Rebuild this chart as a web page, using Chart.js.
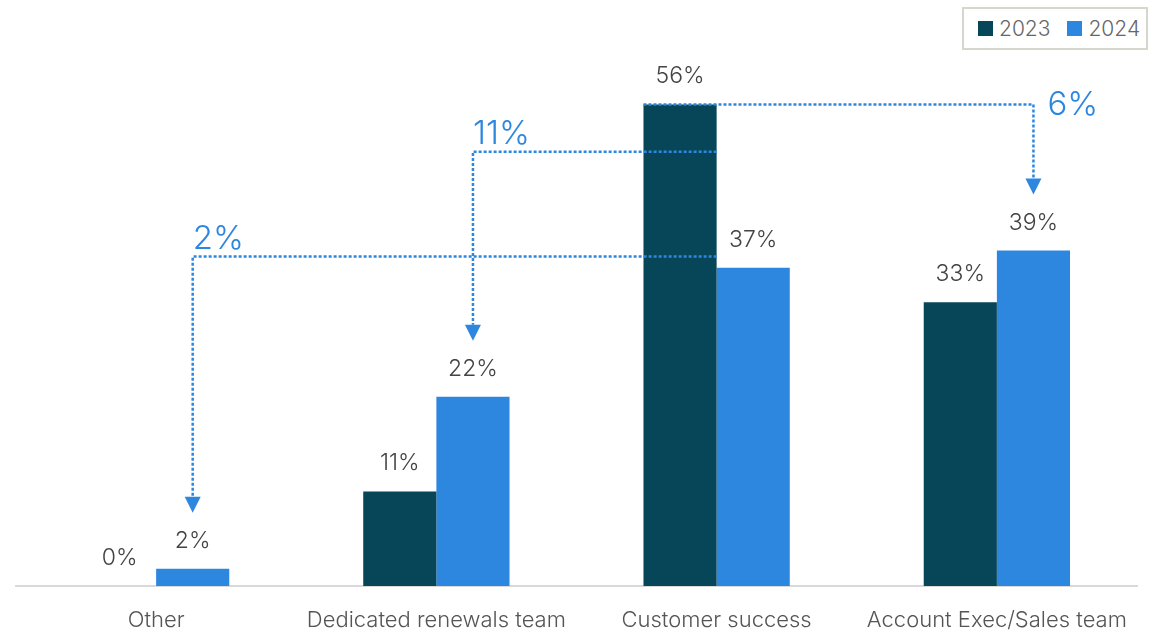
<!DOCTYPE html>
<html>
<head>
<meta charset="utf-8">
<title>Renewal ownership</title>
<script src="https://cdn.jsdelivr.net/npm/chart.js@4.4.1/dist/chart.umd.min.js"></script>
<style>
  html, body { margin: 0; padding: 0; background: #fff; }
  #wrap { position: relative; width: 1166px; height: 637px; }
  #legend {
    position: absolute; left: 962px; top: 7px; width: 182px; height: 39px;
    border: 2px solid #d5d7cd; background: #fff;
    display: flex; align-items: center;
    font-family: Inter, "Noto Sans", sans-serif; font-size: 21px; font-weight: 300; color: #666;
  }
  #legend .sw { width: 15px; height: 15px; display: inline-block; }
  #legend .item { display: flex; align-items: center; }
</style>
</head>
<body>
<div id="wrap">
  <canvas id="owner-chart" width="1166" height="637"></canvas>
  <div id="legend">
    <span class="item" style="margin-left:14px"><span class="sw" style="background:#074659"></span><span style="margin-left:6px">2023</span></span>
    <span class="item" style="margin-left:17px"><span class="sw" style="background:#2e87df"></span><span style="margin-left:6px">2024</span></span>
  </div>
</div>
<script>
const categories = ["Other", "Dedicated renewals team", "Customer success", "Account Exec/Sales team"];
const values2023 = [0, 11, 56, 33];
const values2024 = [2, 22, 37, 39];

const DARK = "#074659";
const BLUE = "#2e87df";
const FONT = 'Inter, "Noto Sans", sans-serif';

// dotted arrows showing where the lost Customer success share moved to
// level = height of the horizontal run, in % units
const shifts = [
  { to: 0, level: 38.3, startEdge: "right", labelPos: "above" },
  { to: 1, level: 50.5, startEdge: "right", labelPos: "above" },
  { to: 3, level: values2023[2], startEdge: "left", labelPos: "right" },
];

const overlay = {
  id: "overlay",
  afterDatasetsDraw(chart) {
    const ctx = chart.ctx;
    const y = chart.scales.y;
    const metas = [chart.getDatasetMeta(0), chart.getDatasetMeta(1)];
    const sets = [values2023, values2024];

    // value labels above each bar
    ctx.save();
    ctx.font = "300 23px " + FONT;
    ctx.fillStyle = "#444";
    ctx.textAlign = "center";
    ctx.textBaseline = "alphabetic";
    metas.forEach((meta, d) => {
      meta.data.forEach((bar, i) => {
        ctx.fillText(sets[d][i] + "%", bar.x, bar.y - 21);
      });
    });
    ctx.restore();

    // shift arrows
    const src = metas[0].data[2];
    shifts.forEach((s) => {
      const target = metas[1].data[s.to];
      const startX = s.startEdge === "right" ? src.x + src.width / 2 : src.x - src.width / 2;
      const lineY = y.getPixelForValue(s.level);
      const tipY = target.y - 56;
      const headH = 16, headW = 8;

      ctx.save();
      ctx.strokeStyle = BLUE;
      ctx.lineWidth = 2.5;
      ctx.setLineDash([3, 2]);
      ctx.beginPath();
      ctx.moveTo(startX, lineY);
      ctx.lineTo(target.x, lineY);
      ctx.lineTo(target.x, tipY - headH);
      ctx.stroke();
      ctx.setLineDash([]);
      ctx.fillStyle = BLUE;
      ctx.beginPath();
      ctx.moveTo(target.x - headW, tipY - headH);
      ctx.lineTo(target.x + headW, tipY - headH);
      ctx.lineTo(target.x, tipY);
      ctx.closePath();
      ctx.fill();

      const diff = values2024[s.to] - values2023[s.to];
      ctx.font = "300 33px " + FONT;
      ctx.textAlign = "left";
      if (s.labelPos === "above") {
        ctx.textBaseline = "alphabetic";
        ctx.fillText(diff + "%", target.x, lineY - 8);
      } else {
        ctx.textBaseline = "middle";
        ctx.fillText(diff + "%", target.x + 14, lineY + 1);
      }
      ctx.restore();
    });
  },
};

new Chart(document.getElementById("owner-chart"), {
  type: "bar",
  data: {
    labels: categories,
    datasets: [
      { label: "2023", data: values2023, backgroundColor: DARK },
      { label: "2024", data: values2024, backgroundColor: BLUE },
    ],
  },
  options: {
    responsive: false,
    animation: false,
    devicePixelRatio: 1,
    layout: { padding: { top: 70, left: 16, right: 29, bottom: 0 } },
    datasets: { bar: { categoryPercentage: 0.522, barPercentage: 1.0 } },
    plugins: { legend: { display: false }, tooltip: { enabled: false } },
    scales: {
      x: {
        grid: { display: false },
        border: { display: true, color: "#d9d9d9", width: 2 },
        ticks: { color: "#555", font: { family: FONT, size: 22, weight: 300 }, padding: 13, maxRotation: 0 },
        afterFit(scale) { scale.height = 51; },
      },
      y: { display: false, min: 0, max: 60 },
    },
  },
  plugins: [overlay],
});
</script>
</body>
</html>
